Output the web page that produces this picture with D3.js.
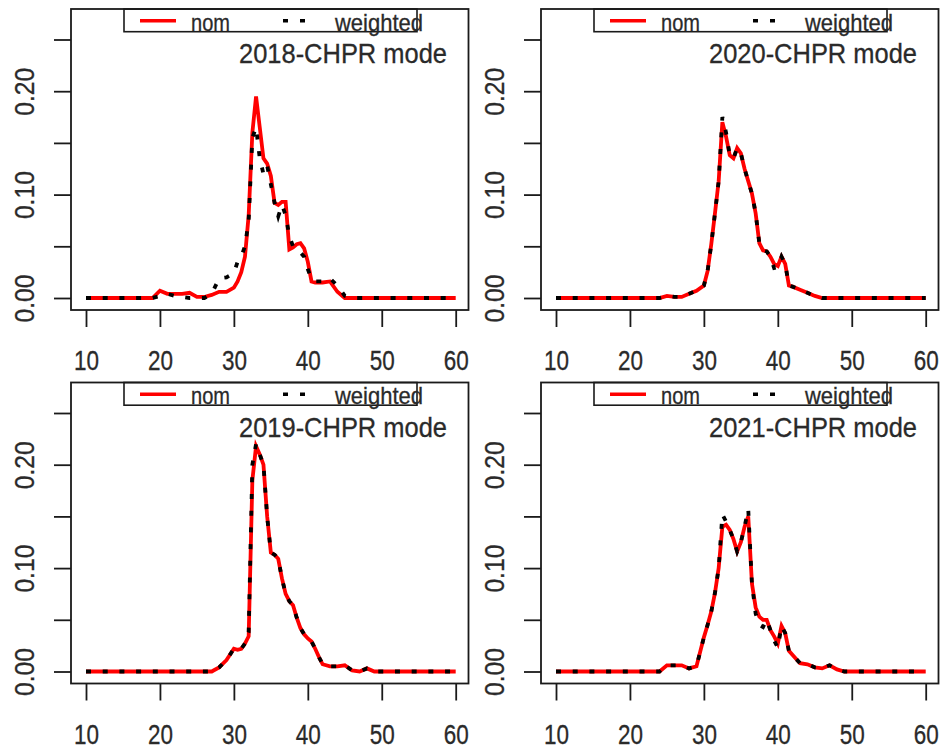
<!DOCTYPE html>
<html>
<head>
<meta charset="utf-8">
<script src="https://cdn.jsdelivr.net/npm/d3@7"></script>
<style>
  body { margin: 0; background: #fff; }
  svg { display: block; }
  text { font-family: "Liberation Sans", Arial, sans-serif; fill: #2a2a2a; stroke: #2a2a2a; stroke-width: 0.3px; }
</style>
</head>
<body>
<svg id="chart" width="940" height="753"></svg>
<script>
// ---- data ----
const xGrid = [10,12,14,16,18,19,20,21,22,23,24,25,26,27,28,29,30,30.5,31,31.5,32,32.5,33,33.5,34,34.5,35,35.5,36,36.5,37,37.5,38,38.5,39,39.5,40,40.5,41,41.5,42,43,44,45,46,47,48,49,50,52,55,60];

const nom2018 = [0,0,0,0,0,0, 0.007,0.004,0.004,0.004,0.005,0.001,0.001,0.003,0.006,0.006,
  0.01,0.016,0.025,0.04,0.08,0.16,0.195,0.165,0.135,0.13,0.118,0.092,0.09,0.093,0.093,
  0.047,0.049,0.052,0.053,0.048,0.035,0.016,0.015,0.015,0.015,0.016,0.006,
  0,0,0,0,0,0,0,0,0];
const wtd2018 = [0,0,0,0,0,0, 0.002,0.004,0.002,0.001,0,0,0,0.004,0.019,0.02,
  0.024,0.035,0.04,0.05,0.075,0.155,0.165,0.135,0.12,0.128,0.11,0.092,0.079,0.09,0.08,
  0.06,0.05,0.048,0.044,0.04,0.028,0.018,0.016,0.016,0.016,0.019,0.012,
  0.002,0,0,0,0,0,0,0,0];

const nom2020 = [0,0,0,0,0,0,0,0,0,0,0, 0.002,0.001,0.001,0.004,0.007,
  0.012,0.026,0.052,0.082,0.113,0.17,0.156,0.138,0.135,0.145,0.14,0.125,0.113,0.101,0.082,
  0.053,0.046,0.045,0.04,0.033,0.031,0.04,0.033,0.012,0.011,0.008,0.005,
  0.002,0,0,0,0,0,0,0,0];
const wtd2020 = [0,0,0,0,0,0,0,0,0,0,0, 0.002,0.001,0.001,0.004,0.007,
  0.012,0.026,0.052,0.082,0.113,0.175,0.16,0.138,0.135,0.145,0.14,0.125,0.113,0.101,0.082,
  0.053,0.046,0.045,0.04,0.029,0.03,0.04,0.033,0.012,0.011,0.008,0.005,
  0.002,0,0,0,0,0,0,0,0];

const nom2019 = [0,0,0,0,0,0,0,0,0,0,0,0,0,0, 0.004,0.011,
  0.022,0.021,0.022,0.027,0.034,0.185,0.218,0.21,0.2,0.15,0.115,0.113,0.109,0.09,0.075,
  0.068,0.064,0.052,0.042,0.036,0.032,0.029,0.022,0.014,0.007,0.005,0.005,
  0.006,0.001,0,0.003,0,0,0,0,0];
const wtd2019 = [0,0,0,0,0,0,0,0,0,0,0,0,0,0, 0.004,0.011,
  0.022,0.021,0.022,0.027,0.038,0.2,0.22,0.21,0.2,0.15,0.115,0.113,0.109,0.09,0.075,
  0.068,0.064,0.052,0.042,0.036,0.032,0.029,0.022,0.014,0.007,0.005,0.005,
  0.006,0.001,0,0.003,0,0,0,0,0];

const nom2021 = [0,0,0,0,0,0,0,0,0,0,0, 0.006,0.006,0.006,0.003,0.005,
  0.033,0.045,0.058,0.076,0.1,0.14,0.142,0.137,0.128,0.116,0.125,0.14,0.15,0.085,0.062,
  0.053,0.05,0.05,0.04,0.034,0.027,0.044,0.037,0.02,0.016,0.008,0.007,
  0.004,0.003,0.006,0.002,0,0,0,0,0];
const wtd2021 = [0,0,0,0,0,0,0,0,0,0,0, 0.006,0.006,0.006,0.003,0.005,
  0.033,0.045,0.058,0.076,0.1,0.152,0.145,0.137,0.128,0.116,0.125,0.14,0.157,0.085,0.056,
  0.045,0.043,0.05,0.04,0.03,0.023,0.044,0.037,0.02,0.016,0.008,0.007,
  0.004,0.003,0.006,0.002,0,0,0,0,0];

const titles = ["2018-CHPR mode", "2020-CHPR mode", "2019-CHPR mode", "2021-CHPR mode"];
const legendLabels = ["nom", "weighted"];
const xTicks = [10, 20, 30, 40, 50, 60];
const yTicks = [0, 0.05, 0.10, 0.15, 0.20, 0.25];
const yLabelTicks = [0, 0.10, 0.20];

const panels = [
  { title: titles[0], nom: nom2018, wtd: wtd2018, col: 0, row: 0 },
  { title: titles[1], nom: nom2020, wtd: wtd2020, col: 1, row: 0 },
  { title: titles[2], nom: nom2019, wtd: wtd2019, col: 0, row: 1 },
  { title: titles[3], nom: nom2021, wtd: wtd2021, col: 1, row: 1 }
];

// ---- drawing ----
const svg = d3.select("#chart");
svg.append("rect").attr("width", 940).attr("height", 753).attr("fill", "#fff");

panels.forEach(p => {
  const ox = p.col * 470, oy = p.row * 373.5;
  const g = svg.append("g").attr("transform", `translate(${ox},${oy})`);

  const x = d3.scaleLinear().domain([10, 60]).range([86, 455.7]);
  const y = d3.scaleLinear().domain([0, 0.25]).range([298, 39.5]);

  // curves
  const line = d3.line().x((d, i) => x(xGrid[i])).y(d => y(d));
  g.append("path").datum(p.nom).attr("d", line)
    .attr("fill", "none").attr("stroke", "#ff0000").attr("stroke-width", 3.8)
    .attr("stroke-linejoin", "miter");
  g.append("path").datum(p.wtd).attr("d", line)
    .attr("fill", "none").attr("stroke", "#000").attr("stroke-width", 3.8)
    .attr("stroke-dasharray", "5,11.7");

  // box
  g.append("rect").attr("x", 71).attr("y", 9).attr("width", 397.5).attr("height", 301)
    .attr("fill", "none").attr("stroke", "#1a1a1a").attr("stroke-width", 1.8);

  // x axis
  const xa = g.append("g").attr("transform", "translate(0,310)")
    .call(d3.axisBottom(x).tickValues(xTicks).tickSize(17).tickSizeOuter(0));
  xa.select(".domain").remove();
  xa.selectAll(".tick line").attr("stroke", "#1a1a1a").attr("stroke-width", 1.8);
  xa.selectAll(".tick text")
    .attr("y", 60).attr("dy", 0)
    .attr("font-size", 27.5)
    .attr("textLength", 25).attr("lengthAdjust", "spacingAndGlyphs")
    .style("fill", "#2a2a2a");

  // y axis
  const ya = g.append("g").attr("transform", "translate(71,0)")
    .call(d3.axisLeft(y).tickValues(yTicks).tickSize(17).tickSizeOuter(0)
      .tickFormat(d => yLabelTicks.some(v => Math.abs(v - d) < 1e-9) ? d3.format(".2f")(d) : ""));
  ya.select(".domain").remove();
  ya.selectAll(".tick line").attr("stroke", "#1a1a1a").attr("stroke-width", 1.8);
  ya.selectAll(".tick text")
    .attr("transform", "rotate(-90)")
    .attr("x", 0).attr("y", -37).attr("dy", 0)
    .attr("text-anchor", "middle")
    .attr("font-size", 27.5)
    .attr("textLength", d => yLabelTicks.some(v => Math.abs(v - d) < 1e-9) ? 48 : null)
    .attr("lengthAdjust", "spacingAndGlyphs")
    .style("fill", "#2a2a2a");

  // legend
  g.append("rect").attr("x", 124).attr("y", 9).attr("width", 293).attr("height", 22.7)
    .attr("fill", "none").attr("stroke", "#1a1a1a").attr("stroke-width", 1.6);
  g.append("line").attr("x1", 140).attr("x2", 176).attr("y1", 20.7).attr("y2", 20.7)
    .attr("stroke", "#ff0000").attr("stroke-width", 3.6);
  g.append("line").attr("x1", 283).attr("x2", 313).attr("y1", 20.7).attr("y2", 20.7)
    .attr("stroke", "#000").attr("stroke-width", 3.6).attr("stroke-dasharray", "5,12");
  g.append("text").attr("x", 191).attr("y", 30.5).attr("font-size", 24)
    .attr("textLength", 39).attr("lengthAdjust", "spacingAndGlyphs").text(legendLabels[0]);
  g.append("text").attr("x", 335).attr("y", 30.5).attr("font-size", 24)
    .attr("textLength", 88).attr("lengthAdjust", "spacingAndGlyphs").text(legendLabels[1]);

  // title
  g.append("text").attr("x", 447).attr("y", 63).attr("text-anchor", "end")
    .attr("font-size", 28).attr("textLength", 208).attr("lengthAdjust", "spacingAndGlyphs")
    .text(p.title);
});
</script>
</body>
</html>
